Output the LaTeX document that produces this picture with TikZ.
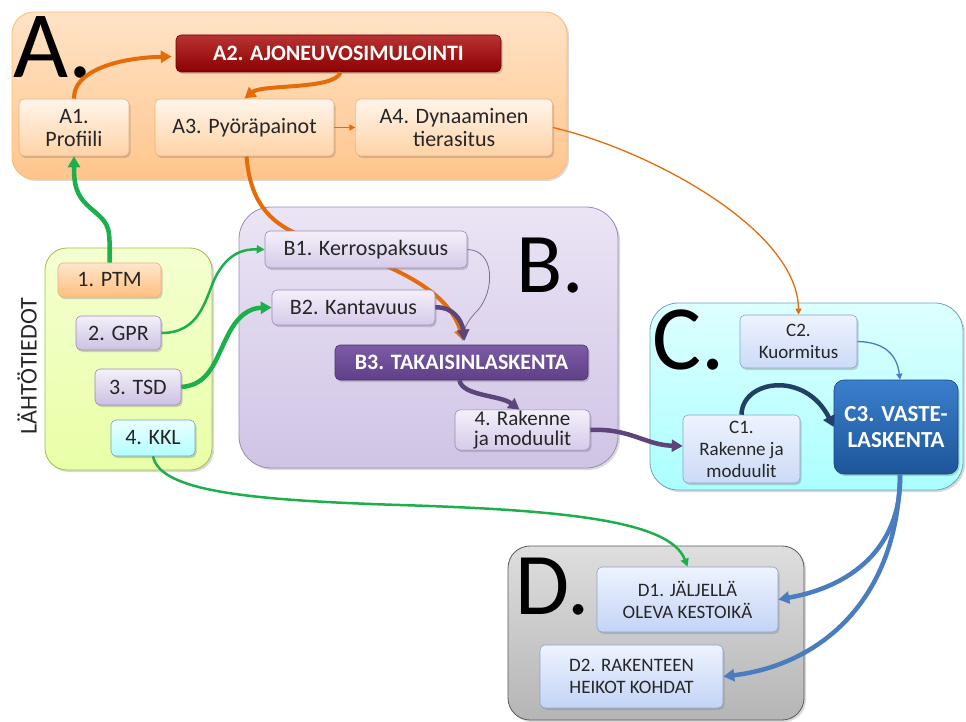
\documentclass[tikz,border=0pt]{standalone}
\usepackage{fontspec}
\setmainfont{Carlito}
\usepackage{tikz}
\usetikzlibrary{positioning, arrows.meta, shadows}

\definecolor{arrorange}{HTML}{E46C0A}
\definecolor{arrgreen}{HTML}{1DAF4B}
\definecolor{arrpurple}{HTML}{5C4679}
\definecolor{arrblue}{HTML}{4A7DBF}
\definecolor{arrnavy}{HTML}{223F66}
\definecolor{lavtop}{HTML}{F4F0FA}
\definecolor{lavbot}{HTML}{D6CAEA}
\definecolor{lavline}{HTML}{9A8BB8}
\definecolor{skytop}{HTML}{EEF3FE}
\definecolor{skybot}{HTML}{C3D4F6}
\definecolor{skyline}{HTML}{8BA3D0}
\definecolor{vastetop}{HTML}{3B7FCC}
\definecolor{vastebot}{HTML}{1D5699}
\definecolor{takatop}{HTML}{7C5CA6}
\definecolor{takabot}{HTML}{5E3F88}

\pgfdeclarelayer{background}
\pgfdeclarelayer{mid}
\pgfsetlayers{background,mid,main}

\tikzset{
>={Triangle[length=11pt,width=12pt]}, % head of the thick arrows
sz/.style 2 args={minimum width=#1pt, minimum height=#2pt}, % box size as in the picture
txt/.style={font=\fontsize{22}{23}\selectfont, text=black!85}, % normal box text
smalltxt/.style={font=\fontsize{19}{22}\selectfont, text=black!85}, % text in the C and D boxes
area/.style={rounded corners=22pt, draw, line width=0.8pt, drop shadow={shadow xshift=2pt, shadow yshift=-2pt, opacity=0.3}}, % the big lettered areas
inbox/.style={rounded corners=5pt, draw, line width=0.6pt, align=center, inner sep=1pt, txt, drop shadow={shadow xshift=1.5pt, shadow yshift=-2pt, opacity=0.35}}, % small boxes inside the areas
hibox/.style={inbox, text=white, font=\bfseries\fontsize{22}{24}\selectfont}, % the main step of an area
boxA/.style={inbox, top color=orange!8, bottom color=orange!35!white, draw=orange!45!brown!60},
boxB/.style={inbox, top color=lavtop, bottom color=lavbot, draw=lavline},
boxC/.style={inbox, smalltxt, top color=skytop, bottom color=skybot!85, draw=skyline},
boxD/.style={inbox, smalltxt, top color=skytop, bottom color=skybot, draw=skyline},
letter/.style={font=\fontsize{#1}{#1}\selectfont, inner sep=0pt, anchor=base west}, % A. B. C. D.
bigarrow/.style={->, line width=4.5pt},
midarrow/.style={-{Triangle[length=8pt,width=8pt]}, line width=2.5pt},
smallarrow/.style={-{Triangle[length=6pt,width=6pt]}, line width=1.3pt},
}

\begin{document}
\begin{tikzpicture}[x=1pt, y=-1pt]
\useasboundingbox (0,0) rectangle (966,722);

% areas
\begin{pgfonlayer}{background}
\node[area, sz={555}{167}, top color=orange!22, bottom color=orange!45!white, draw=orange!55] (areaA) at (289.5,95.5) {};
\node[area, sz={167}{222}, top color=lime!18, bottom color=lime!35!white, draw=lime!50!gray] (areaL) at (128.5,359) {};
\node[area, rounded corners=32pt, sz={379}{261}, top color=lavtop!70!lavbot, bottom color=lavbot!90!lavline, draw=lavline] (areaB) at (428.5,337.5) {};
\node[area, rounded corners=28pt, sz={313}{187}, top color=cyan!13, bottom color=cyan!33, draw=cyan!45!gray] (areaC) at (806.5,396.5) {};
\node[area, sz={296}{174}, top color=black!13, bottom color=black!29, draw=black!65] (areaD) at (656,633) {};
\end{pgfonlayer}

\node[letter=95] (letA) at (13,78) {A.};
\node[letter=85] (letB) at (516,292) {B.};
\node[letter=92] (letC) at (652,369) {C.};
\node[letter=88] (letD) at (515,614) {D.};
\node[txt, font=\fontsize{24}{24}\selectfont, rotate=90] (lahto) at (27,366) {LÄHTÖTIEDOT};

% A
\node[hibox, sz={325}{37}, top color=red!65!black!80, bottom color=red!55!black, draw=red!45!black] (a2) at (338.5,53.5) {A2. AJONEUVOSIMULOINTI};
\node[boxA, sz={110}{57}] (a1) at (74,127.5) {A1.\\Profiili};
\node[boxA, sz={179}{57}] (a3) at (244.5,127.5) {A3. Pyöräpainot};
\node[boxA, sz={197}{57}, right=21pt of a3] (a4) {A4. Dynaaminen\\tierasitus};

% input data
\node[boxA, sz={103}{34}, top color=orange!20, bottom color=orange!50!white] (ptm) at (109.5,280) {1. PTM};
\node[boxB, sz={85}{34}, bottom color=lavbot!85!lavline] (gpr) at (118.5,333) {2. GPR};
\node[boxB, sz={86}{36}, bottom color=lavbot!85!lavline] (tsd) at (138,387) {3. TSD};
\node[inbox, sz={84}{36}, top color=cyan!8, bottom color=cyan!30, draw=cyan!45!gray] (kkl) at (153,438) {4. KKL};

% B
\node[boxB, sz={202}{37}] (b1) at (366,249.5) {B1. Kerrospaksuus};
\node[boxB, sz={163}{35}] (b2) at (353.5,307.5) {B2. Kantavuus};
\node[hibox, sz={253}{35}, top color=takatop, bottom color=takabot, draw=takabot!80!black] (b3) at (461.5,362.5) {B3. TAKAISINLASKENTA};
\node[boxB, sz={135}{40}, font=\fontsize{21}{20}\selectfont] (b4) at (522.5,430) {4. Rakenne\\ja moduulit};

% C
\node[boxC, sz={117}{68}] (c1) at (741.5,449) {C1.\\Rakenne ja\\moduulit};
\node[boxC, sz={117}{53}] (c2) at (798.5,341.5) {C2.\\Kuormitus};
\node[hibox, rounded corners=10pt, sz={124}{94}, font=\bfseries\fontsize{23}{26}\selectfont, top color=vastetop, bottom color=vastebot, draw=vastebot!80!black] (c3) at (896,427) {C3. VASTE-\\LASKENTA};

% D
\node[boxD, sz={181}{65}] (d1) at (687.5,599.5) {D1. JÄLJELLÄ\\OLEVA KESTOIKÄ};
\node[boxD, sz={183}{63}] (d2) at (631.5,676.5) {D2. RAKENTEEN\\HEIKOT KOHDAT};

% orange line runs behind B1
\begin{pgfonlayer}{mid}
\draw[bigarrow, line width=4pt, arrorange] ([xshift=2pt]a3.south) .. controls (250,200) and (268,222) .. (300,235) .. controls (395,264) and (448,290) .. ([xshift=2pt,yshift=4pt]b3.north);
\end{pgfonlayer}

% arrows
\draw[bigarrow, line width=4pt, arrorange] (a1.north) .. controls (73,72) and (115,58) .. ([xshift=-4pt,yshift=-3pt]a2.west);
\draw[bigarrow, line width=4pt, arrorange] ([xshift=2pt]a2.south) .. controls (335,90) and (262,84) .. (a3.north);
\draw[smallarrow, arrorange] (a3) -- (a4);
\draw[smallarrow, arrorange] (a4.east) .. controls (650,150) and (798,230) .. (c2.north);

\draw[bigarrow, arrgreen] (ptm.north) .. controls (110,228) and (110,225) .. (95,212) .. controls (78,198) and (74,190) .. (a1.south);
\draw[midarrow, arrgreen] (gpr.east) .. controls (200,333) and (205,300) .. (215,278) .. controls (228,252) and (245,249) .. (b1.west);
\draw[bigarrow, arrgreen] (tsd.east) .. controls (210,385) and (215,360) .. (228,335) .. controls (238,315) and (250,308) .. (b2.west);
\draw[midarrow, arrgreen] (kkl.south) .. controls (160,490) and (240,500) .. (400,505) .. controls (560,510) and (670,520) .. (d1.north);

\draw[smallarrow, line width=0.8pt, lavline!80!black] (b1.east) .. controls (495,250) and (495,290) .. (478,310) .. controls (468,320) and (464,328) .. ([xshift=1pt,yshift=4pt]b3.north);
\draw[bigarrow, arrpurple] (b2.east) .. controls (452,306) and (462,320) .. ([xshift=3pt,yshift=4pt]b3.north);
\draw[bigarrow, arrpurple] ([xshift=-2pt]b3.south) .. controls (462,396) and (500,395) .. ([xshift=-3pt]b4.north);
\draw[bigarrow, arrpurple] (b4.east) .. controls (630,428) and (645,445) .. ([yshift=3pt]c1.west);

\draw[bigarrow, arrnavy] (c1.north) .. controls (742,380) and (805,370) .. (c3.west);
\draw[smallarrow, arrblue] (c2.east) .. controls (885,342) and (897,355) .. ([xshift=4pt]c3.north);
\draw[bigarrow, arrblue] ([xshift=4pt]c3.south) .. controls (902,540) and (860,585) .. (d1.east);
\draw[bigarrow, arrblue] ([xshift=4pt]c3.south) .. controls (898,600) and (820,665) .. (d2.east);
\end{tikzpicture}
\end{document}
